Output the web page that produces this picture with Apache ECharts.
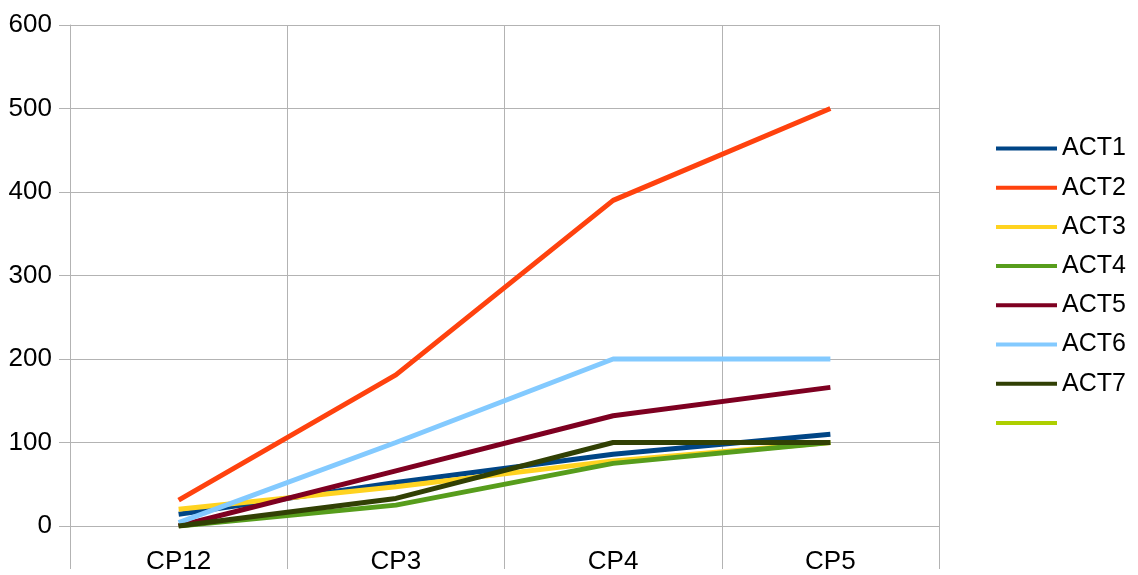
<!DOCTYPE html>
<html>
<head>
<meta charset="utf-8">
<script src="https://cdn.jsdelivr.net/npm/echarts@6/dist/echarts.min.js"></script>
<style>html,body{margin:0;padding:0;background:#fff;overflow:hidden}#c{width:1138px;height:575px}</style>
</head>
<body>
<div id="c"></div>
<script>
var categories = ['CP12', 'CP3', 'CP4', 'CP5'];
var seriesNames = ['ACT1', 'ACT2', 'ACT3', 'ACT4', 'ACT5', 'ACT6', 'ACT7', ' '];
var act1 = [14, 52, 86, 110];
var act2 = [31, 181, 390, 500];
var act3 = [20, 47, 78, 100];
var act4 = [0, 25, 75, 100];
var act5 = [0, 66, 132, 166];
var act6 = [4, 100, 200, 200];
var act7 = [0, 33, 100, 100];
var act8 = [];
var colors = ['#004586', '#ff420e', '#ffd320', '#579d1c', '#7e0021', '#83caff', '#314004', '#aecf00'];
var allData = [act1, act2, act3, act4, act5, act6, act7, act8];

var chart = echarts.init(document.getElementById('c'), null, {renderer: 'canvas'});
var font = '"Liberation Sans", Arial, sans-serif';
chart.setOption({
  animation: false,
  color: colors,
  grid: {left: 70, right: 199, top: 25, bottom: 45, containLabel: false},
  legend: {
    orient: 'vertical',
    left: 996,
    top: 136,
    padding: 0,
    icon: 'rect',
    itemWidth: 61,
    itemHeight: 4,
    itemGap: 14.2,
    itemTextGap: 15,
    textStyle: {fontFamily: font, fontSize: 25, color: '#000', lineHeight: 20},
    data: seriesNames
  },
  xAxis: {
    type: 'category',
    data: categories,
    boundaryGap: true,
    axisLine: {show: true, lineStyle: {color: '#b3b3b3', width: 1}},
    axisTick: {show: true, length: 43, lineStyle: {color: '#b3b3b3'}},
    splitLine: {show: true, lineStyle: {color: '#b3b3b3', width: 1}},
    axisLabel: {fontFamily: font, fontSize: 26, color: '#000', margin: 23}
  },
  yAxis: {
    type: 'value',
    min: 0, max: 600, interval: 100,
    axisLine: {show: true, lineStyle: {color: '#b3b3b3', width: 1}},
    axisTick: {show: true, length: 11, lineStyle: {color: '#b3b3b3'}},
    splitLine: {show: true, lineStyle: {color: '#b3b3b3', width: 1}},
    axisLabel: {fontFamily: font, fontSize: 26, color: '#000', margin: 18}
  },
  series: allData.map(function (d, i) {
    return {
      name: seriesNames[i],
      type: 'line',
      data: d,
      showSymbol: false,
      symbol: 'none',
      lineStyle: {width: 5, color: colors[i]},
      itemStyle: {color: colors[i]}
    };
  })
});
</script>
</body>
</html>
